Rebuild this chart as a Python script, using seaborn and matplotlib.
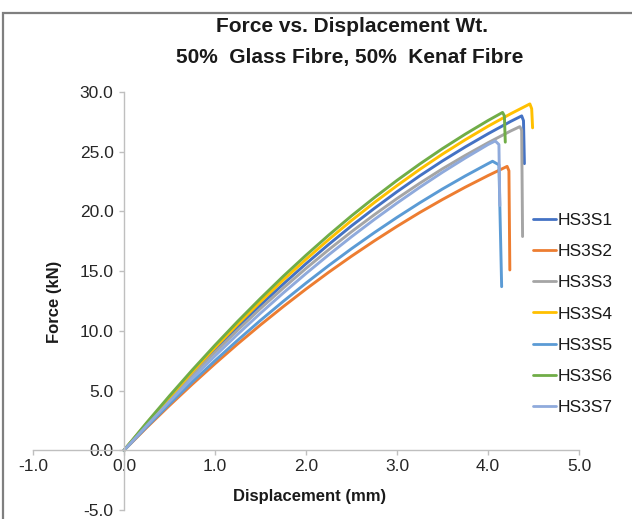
import matplotlib
matplotlib.use("Agg")
import matplotlib.pyplot as plt
from matplotlib.patches import Rectangle
from matplotlib.ticker import FormatStrFormatter
import pandas as pd
import seaborn as sns

# Force-displacement curves for the seven HS3 specimens
series_names = ["HS3S1", "HS3S2", "HS3S3", "HS3S4", "HS3S5", "HS3S6", "HS3S7"]

base_disp = [0, 0.25, 0.5, 0.75, 1.0, 1.25, 1.5, 1.75, 2.0, 2.25, 2.5, 2.75,
             3.0, 3.25, 3.5, 3.75, 4.0]

hs3s1_disp = base_disp + [4.25, 4.37, 4.39, 4.40]
hs3s1_force = [0, 2.21, 4.35, 6.41, 8.40, 10.32, 12.16, 13.92, 15.62, 17.24, 18.79, 20.25,
               21.65, 22.98, 24.23, 25.40, 26.50, 27.54, 28.0, 27.6, 24.0]

hs3s2_disp = base_disp + [4.15, 4.21, 4.23, 4.24]
hs3s2_force = [0, 1.91, 3.75, 5.53, 7.25, 8.91, 10.50, 12.03, 13.50, 14.91, 16.25, 17.53,
               18.75, 19.91, 21.00, 22.03, 23.00, 23.55, 23.77, 23.4, 15.1]

hs3s3_disp = base_disp + [4.25, 4.35, 4.37, 4.38]
hs3s3_force = [0, 2.16, 4.25, 6.26, 8.20, 10.07, 11.87, 13.58, 15.23, 16.80, 18.30, 19.72,
               21.08, 22.36, 23.57, 24.69, 25.75, 26.74, 27.1, 26.8, 17.9]

hs3s4_disp = base_disp + [4.25, 4.46, 4.48, 4.49]
hs3s4_force = [0, 2.26, 4.45, 6.57, 8.60, 10.56, 12.45, 14.26, 15.99, 17.65, 19.24, 20.74,
               22.16, 23.52, 24.80, 26.00, 27.13, 28.18, 29.0, 28.6, 27.0]

hs3s5_disp = base_disp + [4.05, 4.12, 4.15]
hs3s5_force = [0, 1.97, 3.88, 5.72, 7.50, 9.22, 10.88, 12.47, 14.00, 15.47, 16.88, 18.22,
               19.50, 20.72, 21.88, 22.97, 24.00, 24.2, 23.9, 13.7]

hs3s6_disp = base_disp + [4.12, 4.16, 4.18, 4.19]
hs3s6_force = [0, 2.32, 4.56, 6.72, 8.80, 10.80, 12.72, 14.57, 16.33, 18.02, 19.63, 21.15,
               22.60, 23.97, 25.26, 26.47, 27.61, 28.12, 28.29, 28.0, 25.8]

hs3s7_disp = base_disp + [4.08, 4.12, 4.13]
hs3s7_force = [0, 2.07, 4.08, 6.02, 7.90, 9.72, 11.48, 13.17, 14.80, 16.37, 17.88, 19.32,
               20.70, 22.02, 23.28, 24.47, 25.60, 25.9, 25.6, 20.5]

x_ticks = [-1.0, 0.0, 1.0, 2.0, 3.0, 4.0, 5.0]
y_ticks = [-5.0, 0.0, 5.0, 10.0, 15.0, 20.0, 25.0, 30.0]

colors = ["#4472C4", "#ED7D31", "#A5A5A5", "#FFC000", "#5B9BD5", "#70AD47", "#8FAADC"]

disp_lists = [hs3s1_disp, hs3s2_disp, hs3s3_disp, hs3s4_disp, hs3s5_disp, hs3s6_disp, hs3s7_disp]
force_lists = [hs3s1_force, hs3s2_force, hs3s3_force, hs3s4_force, hs3s5_force, hs3s6_force, hs3s7_force]

rows = []
for name, xs, ys in zip(series_names, disp_lists, force_lists):
    for x, y in zip(xs, ys):
        rows.append({"Specimen": name, "Displacement": x, "Force": y})
df = pd.DataFrame(rows)

sns.set_theme(style="white")
plt.rcParams["font.family"] = ["Liberation Sans", "DejaVu Sans"]
plt.rcParams["axes.unicode_minus"] = False

fig = plt.figure(figsize=(6.32, 5.19), dpi=100)
W, H = 632, 519
x0_px, x1_px = 33, 579
y_top_px, y_bot_px = 92, 510
ax = fig.add_axes([x0_px / W, 1 - y_bot_px / H, (x1_px - x0_px) / W, (y_bot_px - y_top_px) / H])

sns.lineplot(data=df, x="Displacement", y="Force", hue="Specimen", hue_order=series_names,
             palette=colors, sort=False, estimator=None, units="Specimen",
             linewidth=2.1, ax=ax, legend=True)
for line in ax.get_lines():
    line.set_solid_joinstyle("round")
    line.set_solid_capstyle("round")

ax.set_xlim(-1.0, 5.0)
ax.set_ylim(-5.0, 30.0)
ax.set_xticks(x_ticks)
ax.set_yticks(y_ticks)
ax.xaxis.set_major_formatter(FormatStrFormatter("%.1f"))
ax.yaxis.set_major_formatter(FormatStrFormatter("%.1f"))

axis_gray = "#BFBFBF"
for side in ["top", "right"]:
    ax.spines[side].set_visible(False)
ax.spines["left"].set_position(("data", 0))
ax.spines["bottom"].set_position(("data", 0))
for side in ["left", "bottom"]:
    ax.spines[side].set_color(axis_gray)
    ax.spines[side].set_linewidth(1.0)

ax.tick_params(axis="both", which="major", direction="out", length=3.5, width=1.0,
               color=axis_gray, labelsize=12.5, labelcolor="#262626")
ax.tick_params(axis="x", pad=3)
ax.tick_params(axis="y", pad=4)
ax.tick_params(left=True, bottom=True)

ax.set_xlabel("Displacement (mm)", fontsize=12, fontweight="bold", color="#1a1a1a", va="center")
ax.xaxis.set_label_coords((310 - x0_px) / (x1_px - x0_px), (y_bot_px - 497) / (y_bot_px - y_top_px))
ax.set_ylabel("Force (kN)", fontsize=12, fontweight="bold", color="#1a1a1a", va="center")
ax.yaxis.set_label_coords((54 - x0_px) / (x1_px - x0_px), (y_bot_px - 302) / (y_bot_px - y_top_px))

fig.text(352 / W, 1 - 27 / H, "Force vs. Displacement Wt.", ha="center", va="center",
         fontsize=15, fontweight="bold", color="#1a1a1a")
fig.text(350 / W, 1 - 57 / H, "50%  Glass Fibre, 50%  Kenaf Fibre", ha="center", va="center",
         fontsize=15, fontweight="bold", color="#1a1a1a")

leg = ax.legend(loc="center left", bbox_to_anchor=(533 / W, 1 - 314 / H),
                bbox_transform=fig.transFigure, frameon=False, fontsize=12.5,
                handlelength=1.3, handletextpad=0.1, labelspacing=0.93,
                borderpad=0, borderaxespad=0)
for line in leg.get_lines():
    line.set_linewidth(2.0)
for t in leg.get_texts():
    t.set_color("#1a1a1a")

# chart-area border, only the top and left edges fall inside the canvas
fig.patches.append(Rectangle((3 / W, -0.05), 1.2, 1 - 13 / H + 0.05, transform=fig.transFigure,
                             fill=False, edgecolor="#7F7F7F", linewidth=1.6, zorder=0))

fig.savefig("out.png", dpi=100)
